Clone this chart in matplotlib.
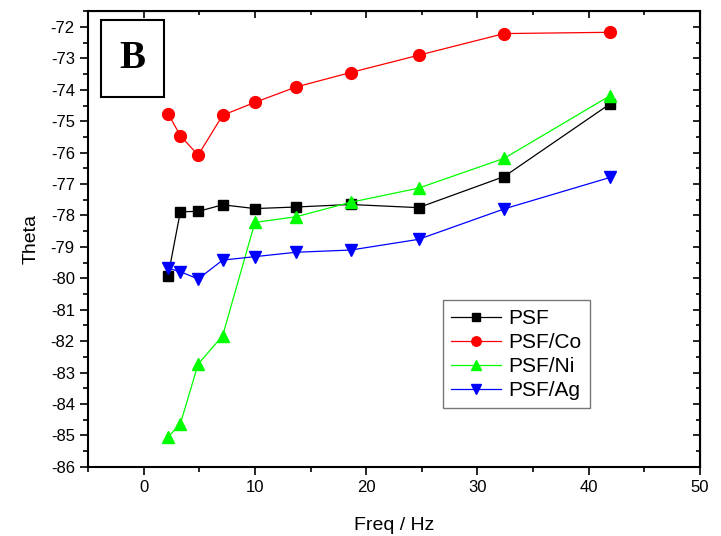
import matplotlib
matplotlib.use('Agg')
from matplotlib import pyplot as plt
from matplotlib.ticker import MultipleLocator
from matplotlib.patches import Rectangle

plt.rcParams['font.family'] = ['Liberation Sans', 'DejaVu Sans']
plt.rcParams['axes.unicode_minus'] = False

freq = [2.2, 3.3, 4.9, 7.1, 10.0, 13.7, 18.6, 24.7, 32.4, 41.9]
psf = [-79.92, -77.88, -77.87, -77.66, -77.78, -77.73, -77.65, -77.75, -76.76, -74.45]
psf_co = [-74.76, -75.46, -76.08, -74.81, -74.40, -73.91, -73.45, -72.90, -72.21, -72.17]
psf_ni = [-85.05, -84.63, -82.73, -81.83, -78.22, -78.04, -77.58, -77.13, -76.18, -74.19]
psf_ag = [-79.68, -79.79, -80.02, -79.42, -79.31, -79.17, -79.10, -78.76, -77.79, -76.79]

fig = plt.figure(figsize=(7.21, 5.36), dpi=100)
ax = fig.add_axes([0.122, 0.129, 0.849, 0.85])

ax.plot(freq, psf, color='k', lw=0.9, marker='s', ms=7.5, label='PSF')
ax.plot(freq, psf_co, color='#ff0000', lw=0.9, marker='o', ms=8.5, label='PSF/Co')
ax.plot(freq, psf_ni, color='#00ff00', lw=0.9, marker='^', ms=9, label='PSF/Ni')
ax.plot(freq, psf_ag, color='#0000ff', lw=0.9, marker='v', ms=9, label='PSF/Ag')

ax.set_xlim(-5, 50)
ax.set_ylim(-86, -71.5)
ax.xaxis.set_major_locator(MultipleLocator(10))
ax.xaxis.set_minor_locator(MultipleLocator(5))
ax.yaxis.set_major_locator(MultipleLocator(1))
ax.yaxis.set_minor_locator(MultipleLocator(0.5))
ax.tick_params(which='both', direction='out', labelsize=12, width=1.2)
ax.tick_params(which='major', length=6)
ax.tick_params(which='minor', length=3.5)
for s in ax.spines.values():
    s.set_linewidth(1.5)

# ticks pointing in on the top and right side
top = ax.secondary_xaxis('top')
top.xaxis.set_major_locator(MultipleLocator(10))
top.xaxis.set_minor_locator(MultipleLocator(5))
top.tick_params(which='both', direction='in', labeltop=False, width=1.2)
top.tick_params(which='major', length=5)
top.tick_params(which='minor', length=3)
right = ax.secondary_yaxis('right')
right.yaxis.set_major_locator(MultipleLocator(1))
right.yaxis.set_minor_locator(MultipleLocator(0.5))
right.tick_params(which='both', direction='in', labelright=False, width=1.2)
right.tick_params(which='major', length=5)
right.tick_params(which='minor', length=3)

ax.set_xlabel('Freq / Hz', fontsize=14, labelpad=16)
ax.set_ylabel('Theta', fontsize=14, labelpad=8)

leg = ax.legend(loc='upper left', bbox_to_anchor=(0.563, 0.388), fontsize=15,
                frameon=True, fancybox=False, edgecolor='#555555', markerscale=0.8,
                handlelength=2.4, labelspacing=0.24, borderpad=0.4, handletextpad=0.35)
leg.get_frame().set_linewidth(1.0)

# "B" panel label in a box
fig.patches.append(Rectangle((101 / 721, 1 - 97 / 536), 63 / 721, 77 / 536,
                             transform=fig.transFigure, facecolor='white',
                             edgecolor='k', linewidth=1.5, zorder=5))
fig.text(132.5 / 721, 1 - 59 / 536, 'B', fontsize=28, fontweight='bold',
         family='Liberation Serif', ha='center', va='center', zorder=6)

fig.savefig('out.png', dpi=100)
